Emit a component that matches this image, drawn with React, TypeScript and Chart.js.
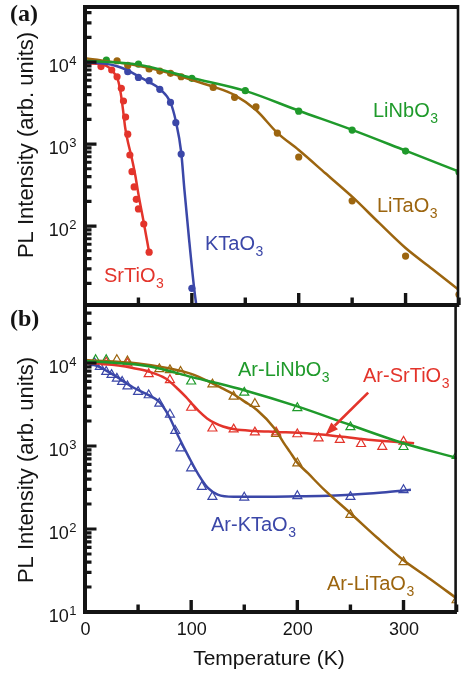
import { useEffect, useRef } from 'react';
import { Chart, registerables } from 'chart.js';

Chart.register(...registerables);

const W = 463;
const H = 673;
const SANS = '"Liberation Sans", Arial, Helvetica, sans-serif';
const SERIF = '"Liberation Serif", "Times New Roman", serif';
const INK = '#141414';

const GREEN = '#1f9a2b';
const RED = '#e3342b';
const BLUE = '#3b47a8';
const BROWN = '#9c650f';

// ---------- panel (a): as-grown crystals ----------
const liNbO3T = [20, 50, 100, 150, 200, 250, 300, 350];
const liNbO3I = [10570, 9450, 6330, 4470, 2520, 1480, 822, 456];
const liNbO3FitT = [0, 50, 100, 150, 200, 250, 300, 350];
const liNbO3FitI = [10400, 9300, 6400, 4450, 2550, 1490, 830, 460];

const liTaO3T = [30, 40, 60, 70, 80, 90, 120, 140, 160, 180, 200, 250, 300, 350];
const liTaO3I = [10370, 9100, 8220, 7760, 7280, 6620, 4910, 3710, 2850, 1360, 695, 203, 43, 14.6];
const liTaO3FitT = [0, 50, 80, 100, 120, 140, 160, 180, 200, 225, 250, 275, 300, 325, 350];
const liTaO3FitI = [11100, 9000, 7300, 6050, 5000, 3960, 2600, 1370, 845, 440, 228, 110, 54, 30, 16.6];

const kTaO3T = [40, 50, 60, 70, 80, 85, 90, 100];
const kTaO3I = [7610, 6500, 5920, 4650, 3220, 1820, 755, 17.4];
const kTaO3FitT = [0, 20, 30, 40, 50, 60, 70, 80, 85, 90, 93, 97.5, 102, 104.5];
const kTaO3FitI = [9900, 9500, 8900, 7900, 6700, 5700, 4700, 3200, 1900, 800, 280, 67, 18, 10];

const srTiO3T = [15, 25, 30, 34, 36, 38, 40, 42, 44, 46, 48, 50, 55, 60];
const srTiO3I = [8800, 8000, 6620, 4780, 3350, 2130, 1320, 735, 460, 300, 212, 162, 106, 48];
const srTiO3FitT = [0, 15, 20, 24, 26.5, 29, 31.3, 33, 34.4, 36, 37.5, 39, 40.6, 43.5, 47, 50, 55, 60];
const srTiO3FitI = [9600, 9400, 9000, 8300, 7600, 6800, 5750, 4500, 3440, 2350, 1620, 1250, 1000, 700, 420, 245, 110, 48];

// ---------- panel (b): Ar-irradiated crystals ----------
const arLiNbO3T = [10, 20, 100, 150, 200, 250, 300, 350];
const arLiNbO3I = [10870, 10870, 6000, 4400, 2870, 1690, 975, 760];
const arLiNbO3FitT = [0, 50, 70, 100, 125, 150, 200, 250, 300, 350];
const arLiNbO3FitI = [10600, 9500, 8600, 6800, 5700, 4700, 3000, 1790, 1080, 720];

const arLiTaO3T = [30, 40, 70, 80, 90, 120, 140, 160, 180, 200, 250, 300, 350];
const arLiTaO3I = [10900, 10500, 8460, 8230, 7850, 5540, 3950, 3230, 1400, 620, 148, 40, 13.9];
const arLiTaO3FitT = [0, 50, 80, 100, 120, 130, 140, 150, 162, 178, 187, 193, 200, 210, 225, 250, 275, 300, 325, 350];
const arLiTaO3FitI = [10900, 9900, 8600, 7400, 5700, 4900, 4200, 3450, 2720, 1660, 1100, 850, 630, 470, 300, 155, 79, 42, 25, 14.6];

const arSrTiO3T = [20, 40, 60, 80, 100, 120, 140, 160, 180, 200, 220, 240, 260, 280, 300];
const arSrTiO3I = [10200, 9900, 7370, 6240, 2900, 1630, 1590, 1460, 1460, 1390, 1240, 1190, 1060, 980, 1130];
const arSrTiO3FitT = [0, 20, 45, 60, 76, 88, 95, 101, 107, 115, 122, 130, 141, 160, 180, 209, 240, 270, 310];
const arSrTiO3FitI = [10000, 9700, 8700, 7900, 6500, 4800, 3900, 3200, 2650, 2150, 1900, 1720, 1590, 1520, 1480, 1420, 1300, 1180, 1080];

const arKTaO3T = [9, 14, 20, 25, 30, 35, 40, 50, 60, 70, 80, 85, 90, 100, 110, 120, 150, 200, 250, 300];
const arKTaO3I = [10000, 9030, 7850, 7200, 6500, 5950, 5250, 4500, 4100, 3250, 2400, 1530, 940, 540, 323, 244, 240, 250, 244, 295];
const arKTaO3FitT = [0, 10, 20, 30, 45, 60, 70, 79, 88, 97.7, 107, 116, 125, 140, 170, 200, 230, 250, 280, 307];
const arKTaO3FitI = [10000, 9400, 8100, 6800, 5100, 4100, 3400, 2300, 1300, 740, 450, 310, 260, 245, 245, 248, 252, 258, 275, 297];

// arrow pointing at the Ar-SrTiO3 curve (data units)
const arrowFromT = 266.7;
const arrowFromI = 4390;
const arrowToT = 226.4;
const arrowToI = 1360;

// axis ticks
const xMajorTicks = [0, 100, 200, 300];
const xMinorTicks = [50, 150, 250, 350];
const yExponentsA = [2, 3, 4];
const yExponentsB = [1, 2, 3, 4];

const zip = (xs: number[], ys: number[]) => xs.map((x, i) => ({ x, y: ys[i] }));

const dots = (t: number[], v: number[], color: string) => ({
  data: zip(t, v),
  showLine: false,
  pointStyle: 'circle',
  pointRadius: 3.6,
  pointBackgroundColor: color,
  pointBorderColor: color,
  pointBorderWidth: 0,
  clip: 0,
});

const triangles = (t: number[], v: number[], color: string) => ({
  data: zip(t, v),
  showLine: false,
  pointStyle: 'triangle',
  pointRadius: 5.2,
  pointBackgroundColor: 'rgba(255,255,255,0)',
  pointBorderColor: color,
  pointBorderWidth: 1.2,
  clip: 0,
});

const curve = (t: number[], v: number[], color: string) => ({
  data: zip(t, v),
  showLine: true,
  borderColor: color,
  borderWidth: 2.5,
  pointRadius: 0,
  cubicInterpolationMode: 'monotone',
  fill: false,
  clip: 0,
});

type Label = { text: string; sub: string; x: number; y: number; color: string };

const labelsA: Label[] = [
  { text: 'LiNbO', sub: '3', x: 373, y: 117, color: GREEN },
  { text: 'LiTaO', sub: '3', x: 377, y: 212, color: BROWN },
  { text: 'KTaO', sub: '3', x: 205, y: 250, color: BLUE },
  { text: 'SrTiO', sub: '3', x: 104, y: 282, color: RED },
];

const labelsB: Label[] = [
  { text: 'Ar-LiNbO', sub: '3', x: 238, y: 376, color: GREEN },
  { text: 'Ar-SrTiO', sub: '3', x: 363, y: 382, color: RED },
  { text: 'Ar-KTaO', sub: '3', x: 211, y: 531, color: BLUE },
  { text: 'Ar-LiTaO', sub: '3', x: 327, y: 590, color: BROWN },
];

function drawChem(ctx: CanvasRenderingContext2D, l: Label) {
  ctx.fillStyle = l.color;
  ctx.textAlign = 'left';
  ctx.textBaseline = 'alphabetic';
  ctx.font = `20px ${SANS}`;
  ctx.fillText(l.text, l.x, l.y);
  const w = ctx.measureText(l.text).width;
  ctx.font = `14px ${SANS}`;
  ctx.fillText(l.sub, l.x + w + 0.5, l.y + 6);
}

type PanelSpec = {
  letter: string;
  letterY: number;
  exps: number[];
  titleY: number;
  labels: Label[];
  bottomAxis: boolean;
  arrow: boolean;
};

function decor(spec: PanelSpec) {
  return {
    id: 'decor' + spec.letter,
    afterDraw(chart: any) {
      const ctx: CanvasRenderingContext2D = chart.ctx;
      const { left, right, top, bottom } = chart.chartArea;
      const xs = chart.scales.x;
      const ys = chart.scales.y;
      ctx.save();

      // frame
      ctx.strokeStyle = INK;
      ctx.lineCap = 'butt';
      ctx.lineWidth = 4;
      ctx.beginPath();
      ctx.moveTo(left - 2, top);
      ctx.lineTo(right, top);
      ctx.moveTo(left, top - 2);
      ctx.lineTo(left, bottom + 2);
      ctx.moveTo(left - 2, bottom);
      ctx.lineTo(right, bottom);
      ctx.stroke();
      ctx.lineWidth = 2.6;
      ctx.beginPath();
      ctx.moveTo(right - 1, top - 2);
      ctx.lineTo(right - 1, bottom + 2);
      ctx.stroke();

      // y ticks (inward)
      ctx.lineWidth = 3.2;
      ctx.beginPath();
      const lo = Math.floor(Math.log10(ys.min));
      const hi = Math.ceil(Math.log10(ys.max));
      for (let e = lo; e <= hi; e++) {
        for (let k = 1; k <= 9; k++) {
          const v = k * Math.pow(10, e);
          if (v < ys.min || v > ys.max) continue;
          const y = ys.getPixelForValue(v);
          ctx.moveTo(left, y);
          ctx.lineTo(left + (k === 1 ? 11.5 : 6.5), y);
        }
      }
      ctx.stroke();

      // x ticks (inward, from the bottom axis)
      ctx.lineWidth = 3.4;
      ctx.beginPath();
      xMajorTicks.forEach((v) => {
        const x = xs.getPixelForValue(v);
        ctx.moveTo(x, bottom);
        ctx.lineTo(x, bottom - 12);
      });
      xMinorTicks.forEach((v) => {
        const x = xs.getPixelForValue(v);
        ctx.moveTo(x, bottom);
        ctx.lineTo(x, bottom - 7.5);
      });
      ctx.stroke();

      // y tick labels: 10 with superscript exponent
      ctx.fillStyle = INK;
      ctx.textBaseline = 'alphabetic';
      ctx.textAlign = 'left';
      spec.exps.forEach((e) => {
        const y = ys.getPixelForValue(Math.pow(10, e));
        ctx.font = `18px ${SANS}`;
        const w10 = ctx.measureText('10').width;
        ctx.font = `13px ${SANS}`;
        const we = ctx.measureText(String(e)).width;
        const x0 = 76.5 - we - w10 - 0.5;
        ctx.font = `18px ${SANS}`;
        ctx.fillText('10', x0, y + 10);
        ctx.font = `13px ${SANS}`;
        ctx.fillText(String(e), x0 + w10 + 0.5, y + 2.5);
      });

      // x tick labels and title
      if (spec.bottomAxis) {
        ctx.font = `18px ${SANS}`;
        ctx.textAlign = 'center';
        xMajorTicks.forEach((v) => {
          ctx.fillText(String(v), xs.getPixelForValue(v) + 0.5, bottom + 23);
        });
        ctx.font = `21px ${SANS}`;
        ctx.fillText('Temperature (K)', 269, 665);
      }

      // y axis title
      ctx.save();
      ctx.translate(33, spec.titleY);
      ctx.rotate(-Math.PI / 2);
      ctx.font = `22px ${SANS}`;
      ctx.textAlign = 'center';
      ctx.fillStyle = INK;
      ctx.fillText('PL Intensity (arb. units)', 0, 0);
      ctx.restore();

      // panel letter
      ctx.font = `bold 24px ${SERIF}`;
      ctx.textAlign = 'left';
      ctx.fillStyle = INK;
      ctx.fillText(spec.letter, 10, spec.letterY);

      // curve labels
      spec.labels.forEach((l) => drawChem(ctx, l));

      // arrow
      if (spec.arrow) {
        const x1 = xs.getPixelForValue(arrowFromT);
        const y1 = ys.getPixelForValue(arrowFromI);
        const x2 = xs.getPixelForValue(arrowToT);
        const y2 = ys.getPixelForValue(arrowToI);
        const ang = Math.atan2(y2 - y1, x2 - x1);
        const headL = 13;
        const headW = 4.8;
        const bx = x2 - headL * Math.cos(ang);
        const by = y2 - headL * Math.sin(ang);
        ctx.strokeStyle = RED;
        ctx.fillStyle = RED;
        ctx.lineWidth = 2.6;
        ctx.beginPath();
        ctx.moveTo(x1, y1);
        ctx.lineTo(bx, by);
        ctx.stroke();
        ctx.beginPath();
        ctx.moveTo(x2, y2);
        ctx.lineTo(bx + headW * Math.sin(ang), by - headW * Math.cos(ang));
        ctx.lineTo(bx - headW * Math.sin(ang), by + headW * Math.cos(ang));
        ctx.closePath();
        ctx.fill();
      }

      ctx.restore();
    },
  };
}

function makeConfig(datasets: any[], yMin: number, yMax: number, padTop: number, padBottom: number, spec: PanelSpec) {
  return {
    type: 'line' as const,
    data: { datasets },
    options: {
      responsive: false,
      animation: false as const,
      devicePixelRatio: 1,
      events: [] as any[],
      layout: { padding: { left: 85, right: 1, top: padTop, bottom: padBottom } },
      scales: {
        x: { type: 'linear' as const, min: 0, max: 350, display: false },
        y: { type: 'logarithmic' as const, min: yMin, max: yMax, display: false },
      },
      plugins: {
        legend: { display: false },
        tooltip: { enabled: false },
      },
    },
    plugins: [decor(spec)],
  };
}

export default function App() {
  const refA = useRef<HTMLCanvasElement>(null);
  const refB = useRef<HTMLCanvasElement>(null);

  useEffect(() => {
    const dsA = [
      curve(liNbO3FitT, liNbO3FitI, GREEN),
      curve(liTaO3FitT, liTaO3FitI, BROWN),
      curve(kTaO3FitT, kTaO3FitI, BLUE),
      curve(srTiO3FitT, srTiO3FitI, RED),
      dots(liNbO3T, liNbO3I, GREEN),
      dots(liTaO3T, liTaO3I, BROWN),
      dots(kTaO3T, kTaO3I, BLUE),
      dots(srTiO3T, srTiO3I, RED),
    ];
    const dsB = [
      curve(arLiNbO3FitT, arLiNbO3FitI, GREEN),
      curve(arLiTaO3FitT, arLiTaO3FitI, BROWN),
      curve(arSrTiO3FitT, arSrTiO3FitI, RED),
      curve(arKTaO3FitT, arKTaO3FitI, BLUE),
      triangles(arLiNbO3T, arLiNbO3I, GREEN),
      triangles(arLiTaO3T, arLiTaO3I, BROWN),
      triangles(arSrTiO3T, arSrTiO3I, RED),
      triangles(arKTaO3T, arKTaO3I, BLUE),
    ];

    const chartA = new Chart(
      refA.current as HTMLCanvasElement,
      makeConfig(dsA, 10.9, 46900, 7, H - 305, {
        letter: '(a)',
        letterY: 21,
        exps: yExponentsA,
        titleY: 145,
        labels: labelsA,
        bottomAxis: false,
        arrow: false,
      }) as any
    );
    const chartB = new Chart(
      refB.current as HTMLCanvasElement,
      makeConfig(dsB, 10, 50000, 305, H - 612, {
        letter: '(b)',
        letterY: 326,
        exps: yExponentsB,
        titleY: 470,
        labels: labelsB,
        bottomAxis: true,
        arrow: true,
      }) as any
    );
    return () => {
      chartA.destroy();
      chartB.destroy();
    };
  }, []);

  return (
    <div style={{ position: 'absolute', left: 0, top: 0, width: W, height: H, background: '#ffffff', overflow: 'hidden' }}>
      <canvas ref={refA} width={W} height={H} style={{ position: 'absolute', left: 0, top: 0 }} />
      <canvas ref={refB} width={W} height={H} style={{ position: 'absolute', left: 0, top: 0 }} />
    </div>
  );
}
